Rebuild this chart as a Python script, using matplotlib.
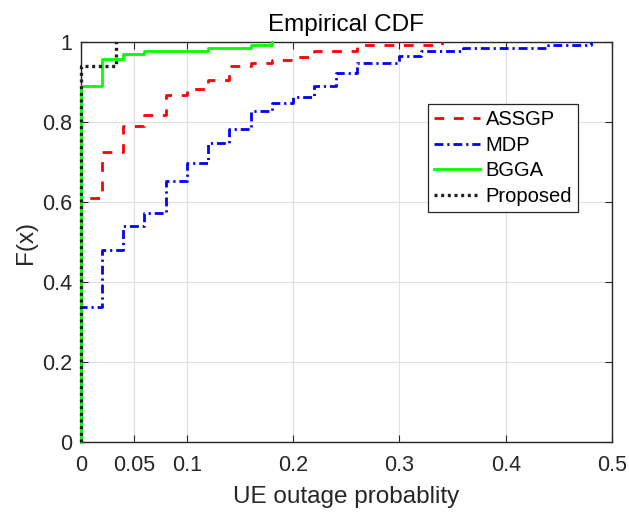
import matplotlib
matplotlib.use("Agg")
import matplotlib.pyplot as plt
import numpy as np

plt.rcParams['font.family'] = ['Liberation Sans', 'DejaVu Sans']

# Empirical CDF data: jump locations and CDF levels after each jump
assgp_x = [0, 0.02, 0.04, 0.06, 0.08, 0.10, 0.12, 0.14, 0.16, 0.18, 0.20, 0.22, 0.26, 0.34]
assgp_F = [0.61, 0.725, 0.79, 0.818, 0.868, 0.883, 0.907, 0.941, 0.948, 0.957, 0.963, 0.978, 0.993, 1.0]

mdp_x = [0, 0.02, 0.04, 0.06, 0.08, 0.10, 0.12, 0.14, 0.16, 0.18, 0.20, 0.22, 0.24, 0.26,
         0.30, 0.32, 0.36, 0.44, 0.48]
mdp_F = [0.3375, 0.481, 0.541, 0.574, 0.654, 0.699, 0.7475, 0.783, 0.828, 0.849, 0.864,
         0.8915, 0.9225, 0.949, 0.965, 0.978, 0.986, 0.994, 1.0]

bgga_x = [0, 0.02, 0.04, 0.06, 0.12, 0.16, 0.18]
bgga_F = [0.8915, 0.9575, 0.971, 0.978, 0.985, 0.9925, 1.0]

prop_x = [0, 0.033]
prop_F = [0.941, 1.0]

labels = ['ASSGP', 'MDP', 'BGGA', 'Proposed']
xticks = [0, 0.05, 0.1, 0.2, 0.3, 0.4, 0.5]
xtick_labels = ['0', '0.05', '0.1', '0.2', '0.3', '0.4', '0.5']
yticks = [0, 0.2, 0.4, 0.6, 0.8, 1.0]
ytick_labels = ['0', '0.2', '0.4', '0.6', '0.8', '1']

fig = plt.figure(figsize=(6.29, 5.13), dpi=100)
ax = fig.add_axes([0.1283, 0.1378, 0.8447, 0.7794])

def stairs(xs, Fs):
    x = [xs[0]] + list(xs)
    y = [0.0] + list(Fs)
    return x, y

styles = [
    ((1, 0, 0), (0, (3.5, 3.5)), 2.0),
    ((0, 0, 1), (0, (3.2, 1.4, 0.8, 1.4)), 2.0),
    ((0, 1, 0), '-', 2.0),
    ((0.12, 0.12, 0.12), (0, (0.9, 1.1)), 2.4),
]
series = [(assgp_x, assgp_F), (mdp_x, mdp_F), (bgga_x, bgga_F), (prop_x, prop_F)]
for i, ((xs, Fs), (c, ls, lw)) in enumerate(zip(series, styles)):
    x, y = stairs(xs, Fs)
    ax.plot(x, y, drawstyle='steps-post', color=c, lw=lw, linestyle=ls,
            label=labels[i], clip_on=False, zorder=3 + i)

ax.set_xlim(0, 0.5)
ax.set_ylim(0, 1)
ax.set_xticks(xticks)
ax.set_xticklabels(xtick_labels)
ax.set_yticks(yticks)
ax.set_yticklabels(ytick_labels)

edge = (0.15, 0.15, 0.15)
ax.grid(True, color=(0.88, 0.88, 0.88), lw=0.8)
ax.set_axisbelow(True)
for s in ax.spines.values():
    s.set_color(edge)
    s.set_linewidth(1.0)
    s.set_zorder(2.5)
ax.tick_params(direction='in', top=True, right=True, length=5, width=0.8,
               colors=edge, labelsize=15.5, labelcolor=edge)
ax.tick_params(axis='x', pad=9)
ax.tick_params(axis='y', pad=6)

ax.set_title('Empirical CDF', fontsize=17.5, color='black', pad=8)
ax.set_xlabel('UE outage probablity', fontsize=17.5, color=edge, labelpad=7)
ax.set_ylabel('F(x)', fontsize=17.5, color=edge, labelpad=4)

leg = ax.legend(loc='upper left', bbox_to_anchor=(0.654, 0.846), fontsize=14.5,
                frameon=True, fancybox=False, framealpha=1, edgecolor=edge,
                handlelength=2.25, handletextpad=0.3, labelspacing=0.33,
                borderpad=0.3, borderaxespad=0)
leg.get_frame().set_linewidth(0.9)
leg.set_zorder(10)

fig.savefig('out.png', dpi=100)
